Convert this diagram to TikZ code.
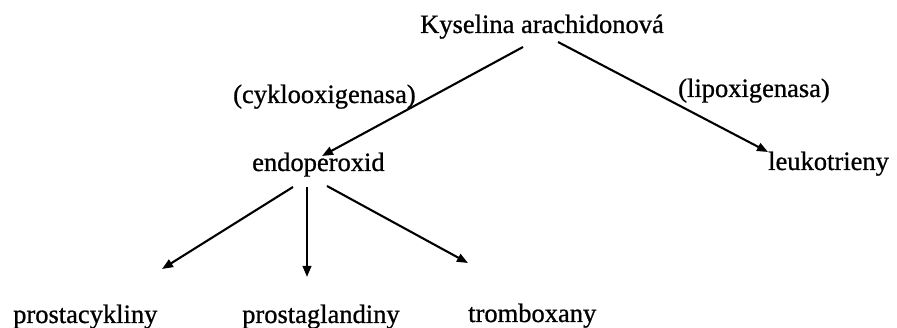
\documentclass[tikz,border=0pt]{standalone}
\usepackage{fontspec}
\setmainfont{Liberation Serif}[FakeBold=0.8]
\usetikzlibrary{arrows.meta,calc}
\begin{document}
\begin{tikzpicture}[x=1pt,y=-1pt,
  lbl/.style={anchor=base west,inner sep=0pt,font=\fontsize{26.5}{30}\selectfont},
  arr/.style={line width=2.1pt,-{Triangle[length=11pt,width=8.5pt]}}]
\useasboundingbox[fill=white] (0,0) rectangle (897,328);
\node[lbl] (K) at (420,33) {Kyselina arachidonová};
\node[lbl] (cyk) at (233,103) {(cyklooxigenasa)};
\node[lbl] (endo) at (252,171) {endoperoxid};
\node[lbl] (lip) at (678,97) {(lipoxigenasa)};
\node[lbl] (leu) at (768,170) {leukotrieny};
\node[lbl] (pc) at (13,323) {prostacykliny};
\node[lbl] (pg) at (242,323) {prostaglandiny};
\node[lbl] (tr) at (468,322) {tromboxany};
\draw[arr] ($(K.base west)+(103,14)$) -- ($(endo.base west)+(70,-15)$);
\draw[arr] ($(K.base west)+(138,9)$) -- ($(leu.base west)+(0,-18)$);
\draw[arr] ($(endo.base west)+(41,16)$) -- ($(pc.base west)+(149,-54)$);
\draw[arr] ($(endo.base west)+(55,16)$) -- ($(pg.base west)+(65,-46)$);
\draw[arr] ($(endo.base west)+(75,15)$) -- ($(tr.base west)+(0,-59)$);
\end{tikzpicture}
\end{document}
